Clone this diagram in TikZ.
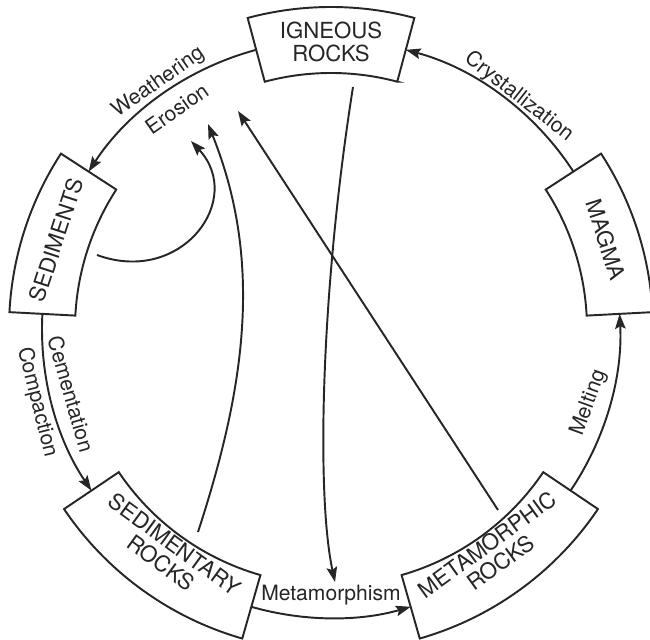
\documentclass[tikz,border=0pt]{standalone}
\usepackage{fontspec}
\setmainfont{TeX Gyre Heros}
\usetikzlibrary{arrows.meta}

\begin{document}
\begin{tikzpicture}[
    color=black!85,
    rockbox/.style={draw,line width=1.1pt,fill=white},
    rocklabel/.style={align=center,font=\fontsize{12.6}{12.8}\selectfont},
    process/.style={font=\fontsize{12}{13}\selectfont},
    arrow/.style={-{Stealth[length=8.5pt,width=6pt,inset=1.5pt]},line width=1.1pt}
]
    \useasboundingbox (-6.62,-6.22) rectangle (6.38,6.58);
    \def\R{5.78}
    \def\Ri{5.12}
    \def\Ro{6.44}

    % Rock boxes
    \draw[rockbox] (75:\Ri) -- (75:\Ro) arc[start angle=75,end angle=105,radius=\Ro] -- (105:\Ri) arc[start angle=105,end angle=75,radius=\Ri] -- cycle;
    \draw[rockbox] (147:\Ri) -- (147:\Ro) arc[start angle=147,end angle=177,radius=\Ro] -- (177:\Ri) arc[start angle=177,end angle=147,radius=\Ri] -- cycle;
    \draw[rockbox] (3:\Ri) -- (3:\Ro) arc[start angle=3,end angle=33,radius=\Ro] -- (33:\Ri) arc[start angle=33,end angle=3,radius=\Ri] -- cycle;
    \draw[rockbox] (214:\Ri) -- (214:\Ro) arc[start angle=214,end angle=254,radius=\Ro] -- (254:\Ri) arc[start angle=254,end angle=214,radius=\Ri] -- cycle;
    \draw[rockbox] (286:\Ri) -- (286:\Ro) arc[start angle=286,end angle=326,radius=\Ro] -- (326:\Ri) arc[start angle=326,end angle=286,radius=\Ri] -- cycle;

    \node[rocklabel] (igneous) at (90:5.74) {IGNEOUS\\ROCKS};
    \node[rocklabel,rotate=72] (sediments) at (162:\R) {SEDIMENTS};
    \node[rocklabel,rotate=-72] (magma) at (18:\R) {MAGMA};
    \node[rocklabel,rotate=-36] (sedrock) at (-126:5.55) {SEDIMENTARY\\ROCKS};
    \node[rocklabel,rotate=36] (metarock) at (-54:5.55) {METAMORPHIC\\ROCKS};

    % Box edges on the circle
    \coordinate (igneous_w) at (105:\R);
    \coordinate (sediments_s) at (177:\R);
    \coordinate (sedrock_e) at (254:\R);
    \coordinate (metarock_n) at (326:\R);
    \coordinate (magma_n) at (33:\R);

    % Cycle arrows
    \draw[arrow] (igneous_w) arc[start angle=105,end angle=147,radius=\R];
    \draw[arrow] (sediments_s) arc[start angle=177,end angle=214,radius=\R];
    \draw[arrow] (sedrock_e) arc[start angle=254,end angle=286,radius=\R];
    \draw[arrow] (metarock_n) arc[start angle=326,end angle=363,radius=\R];
    \draw[arrow] (magma_n) arc[start angle=33,end angle=75,radius=\R];

    % Process labels
    \node[process,rotate=35] (weathering) at (125:6.02) {Weathering};
    \node[process,rotate=35] (erosion) at (125:5.38) {Erosion};
    \node[process,rotate=-38] (crystallization) at (51:5.97) {Crystallization};
    \node[process,rotate=-74] (cementation) at (194:5.36) {Cementation};
    \node[process,rotate=-76] (compaction) at (194:6.06) {Compaction};
    \node[process] (metamorphism) at (-90:5.32) {Metamorphism};
    \node[process,rotate=70] (melting) at (-16:5.36) {Melting};

    % Inner arrows
    \coordinate (sediments_in) at (-4.68,1.48);
    \coordinate (sedrock_in) at (-2.66,-4.06);
    \coordinate (metarock_in) at (3.34,-3.62);
    \coordinate (igneous_in) at (0.44,4.84);
    \coordinate (erosion_a) at (-2.80,3.76);
    \coordinate (erosion_b) at (-2.46,4.10);
    \coordinate (erosion_c) at (-1.86,4.36);
    \coordinate (metamorphism_in) at (0.08,-5.06);

    \draw[arrow] (sediments_in) .. controls (-2.99,0.86) and (-1.71,2.59) .. (erosion_a);
    \draw[arrow] (sedrock_in) .. controls (-1.73,-1.21) and (-1.34,1.32) .. (erosion_b);
    \draw[arrow] (metarock_in) -- (erosion_c);
    \draw[arrow] (igneous_in) .. controls (-0.2,0.8) and (-0.3,-3.3) .. (metamorphism_in);
\end{tikzpicture}
\end{document}
